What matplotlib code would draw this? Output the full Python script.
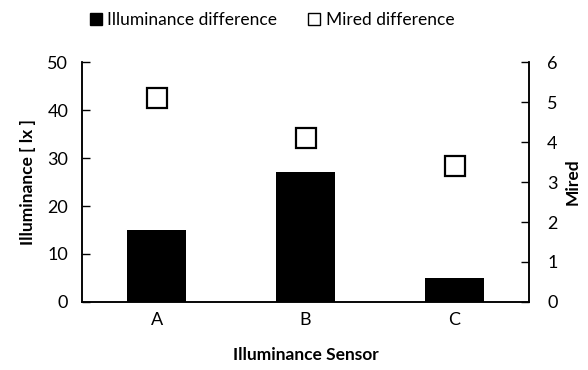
import matplotlib
matplotlib.use('Agg')
import matplotlib.pyplot as plt
from matplotlib.patches import Patch

plt.rcParams['font.family'] = ['Lato', 'DejaVu Sans']

# sensors on x axis
sensors = ['A', 'B', 'C']
# bars, left axis (lx)
illum_diff = [15, 27, 5]
# squares, right axis (mired)
mired_diff = [5.1, 4.1, 3.4]

left_ticks = [0, 10, 20, 30, 40, 50]
right_ticks = [0, 1, 2, 3, 4, 5, 6]

fig = plt.figure(figsize=(5.88, 3.7), dpi=100)
ax = fig.add_axes([0.1395, 0.1838, 0.7602, 0.6486])
ax2 = ax.twinx()

x = range(len(sensors))
ax.bar(x, illum_diff, width=0.4, color='black', zorder=2)
ax2.plot(x, mired_diff, linestyle='none', marker='s', markersize=14,
         markerfacecolor='white', markeredgecolor='black', markeredgewidth=1.6)

# axes setup
ax.set_xlim(-0.5, 2.5)
ax.set_ylim(0, 50)
ax.set_yticks(left_ticks)
ax2.set_ylim(0, 6)
ax2.set_yticks(right_ticks)
ax.set_xticks(list(x))
ax.set_xticklabels(sensors)

ax.tick_params(axis='x', length=0, labelsize=13, pad=7)
ax.tick_params(axis='y', direction='in', length=6, width=1, labelsize=13, pad=10)
ax2.tick_params(axis='y', direction='in', length=6, width=1, labelsize=13, pad=13)

for a in (ax, ax2):
    a.spines['top'].set_visible(False)
    for s in ('left', 'right', 'bottom'):
        a.spines[s].set_color('black')
        a.spines[s].set_linewidth(1.1)

ax.set_xlabel('Illuminance Sensor', fontsize=12.5, fontweight='bold', labelpad=14)
ax.set_ylabel('Illuminance [ lx ]', fontsize=12.5, fontweight='bold', labelpad=8)
ax2.set_ylabel('Mired', fontsize=12.5, fontweight='bold', labelpad=5)

# legend on top
handles = [Patch(facecolor='black', edgecolor='black'),
           Patch(facecolor='white', edgecolor='black')]
fig.legend(handles, ['Illuminance difference', 'Mired difference'],
           loc='center', bbox_to_anchor=(272 / 588, 1 - 20 / 370), ncol=2,
           frameon=False, fontsize=12.5, handlelength=0.7, handleheight=0.7,
           handletextpad=0.3, columnspacing=1.8)

fig.savefig('out.png', dpi=100)
